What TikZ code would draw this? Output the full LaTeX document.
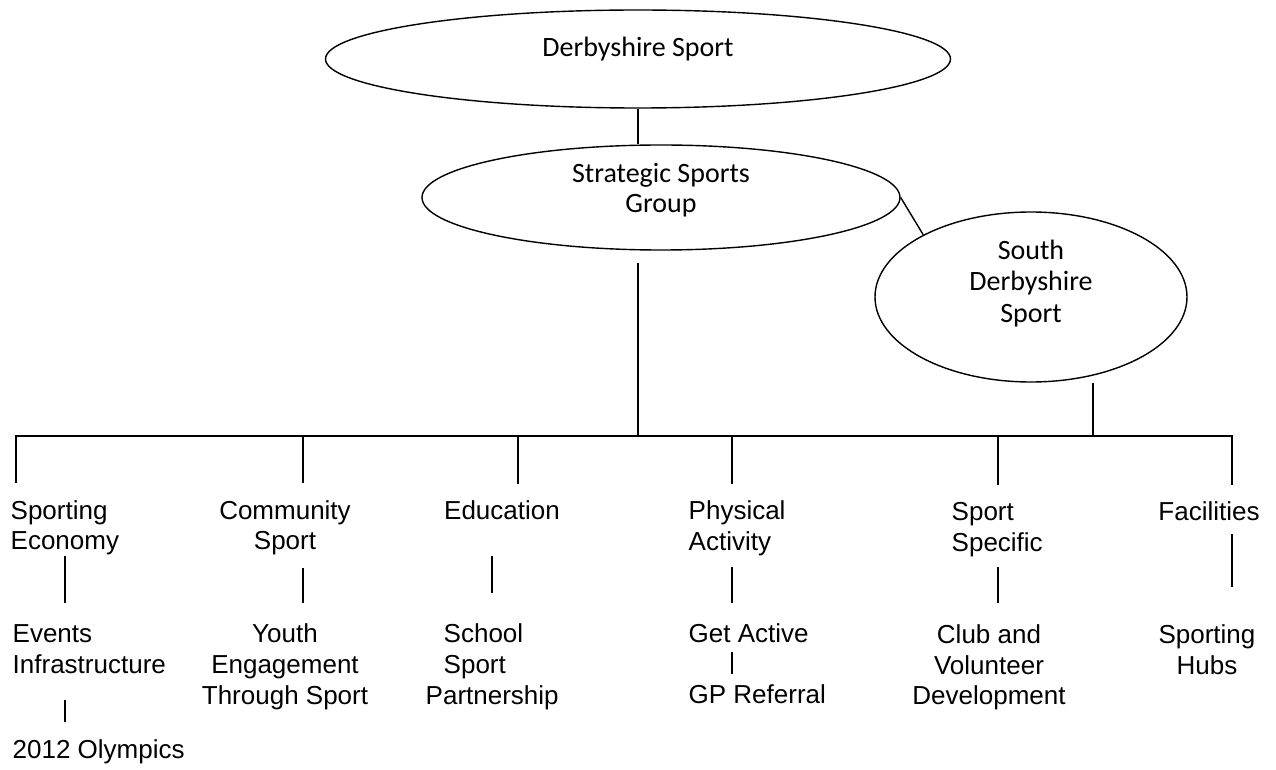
\documentclass[tikz,border=0pt]{standalone}
\usepackage{fontspec}
\setmainfont{Liberation Sans}
\newfontfamily\ellfont{Carlito}
\usetikzlibrary{shapes.geometric}
\newcommand\stk[2][l]{\begin{tabular}[t]{@{}#1@{}}#2\end{tabular}}
\newcommand\stkb[1]{\begin{tabular}[b]{@{}c@{}}#1\end{tabular}}
\tikzset{
	blob/.style={draw, ellipse, inner sep=0pt},
	lbl/.style={inner sep=0pt, font=\fontsize{13}{15.5}\selectfont},
}
\begin{document}
\begin{tikzpicture}[x=0.5pt, y=-0.5pt, line width=0.7pt]
	\useasboundingbox (0,0) rectangle (1276,770);
	\node[blob, minimum width=312.5pt, minimum height=49pt, text height=0pt, text depth=2pt, font=\ellfont\fontsize{14}{15}\selectfont] (ds) at (638,59) {Derbyshire Sport};
	\node[blob, minimum width=239pt, minimum height=52.5pt, text height=15.5pt, text depth=0pt, font=\ellfont\fontsize{14}{15}\selectfont] (ssg) at (661,197.5) {\stkb{Strategic Sports\\Group}};
	\node[blob, minimum width=156pt, minimum height=85pt, text height=26pt, text depth=0pt, font=\ellfont\fontsize{14}{16}\selectfont] (sds) at (1031,297) {\stkb{South\\Derbyshire\\Sport}};

	\coordinate (b1) at (16,436);
	\coordinate (b2) at (303,436);
	\coordinate (b3) at (518,436);
	\coordinate (b4) at (732,436);
	\coordinate (b5) at (998,436);
	\coordinate (b6) at (1232,436);
	\coordinate (hub) at (638,436);
	\coordinate (sj) at (1093,436);

	\node[lbl, anchor=base west] (econ) at (10,519) {\stk{Sporting\\Economy}};
	\node[lbl, anchor=base] (comm) at (285,519) {\stk[c]{Community\\Sport}};
	\node[lbl, anchor=base] (edu) at (502,520) {\stk{Education}};
	\node[lbl, anchor=base west] (phys) at (688,520) {\stk{Physical\\Activity}};
	\node[lbl, anchor=base west] (spec) at (951,521) {\stk{Sport\\Specific}};
	\node[lbl, anchor=base] (fac) at (1209,521) {\stk{Facilities}};

	\node[lbl, anchor=base west] (events) at (12,642) {\stk{Events\\Infrastructure}};
	\node[lbl, anchor=base] (youth) at (285,642) {\stk[c]{Youth\\Engagement\\Through Sport}};
	\node[lbl, anchor=base west] (school) at (425,642) {\stk{\hspace*{9pt}School\\\hspace*{9pt}Sport\\Partnership}};
	\node[lbl, anchor=base west] (getact) at (688,642) {\stk{Get Active}};
	\node[lbl, anchor=base west] (gp) at (688,703) {\stk{GP Referral}};
	\node[lbl, anchor=base] (club) at (989,643) {\stk[c]{Club and\\Volunteer\\Development}};
	\node[lbl, anchor=base] (hubs) at (1207,643) {\stk[c]{Sporting\\Hubs}};
	\node[lbl, anchor=base west] (oly) at (12,758) {\stk{2012 Olympics}};

	\draw (ds.south) -- (ds.south |- ssg.north);
	\draw (ssg.east) -- (sds.150);
	\draw[shorten <=6pt] (ssg.south -| hub) -- (hub);
	\draw (sds.south -| sj) -- (sj);
	\draw[shorten <=7pt, shorten >=7pt] (b1 |- econ.north) -- (b1) -- (b6) -- (b6 |- fac.north);
	\foreach \b/\n in {b2/comm, b3/edu, b4/phys, b5/spec}
		\draw[shorten >=7pt] (\b) -- (\b |- \n.north);

	\draw[shorten <=-2pt, shorten >=8.5pt] (econ.south) -- (econ.south |- events.north);
	\draw[shorten <=8.5pt, shorten >=7pt] (econ.south |- events.south) -- (econ.south |- oly.north);
	\draw[shorten <=4pt, shorten >=8.5pt] (b2 |- comm.south) -- (b2 |- youth.north);
	\draw[shorten <=13pt, shorten >=13.5pt] (school.north |- edu.south) -- (school.north);
	\draw[shorten <=3pt, shorten >=8.5pt] (b4 |- phys.south) -- (b4 |- getact.north);
	\draw[shorten >=3.5pt] (b4 |- getact.south) -- (b4 |- gp.north);
	\draw[shorten <=2.5pt, shorten >=9pt] (b5 |- spec.south) -- (b5 |- club.north);
	\draw[shorten <=1.5pt, shorten >=17pt] (b6 |- fac.south) -- (b6 |- hubs.north);
\end{tikzpicture}
\end{document}
